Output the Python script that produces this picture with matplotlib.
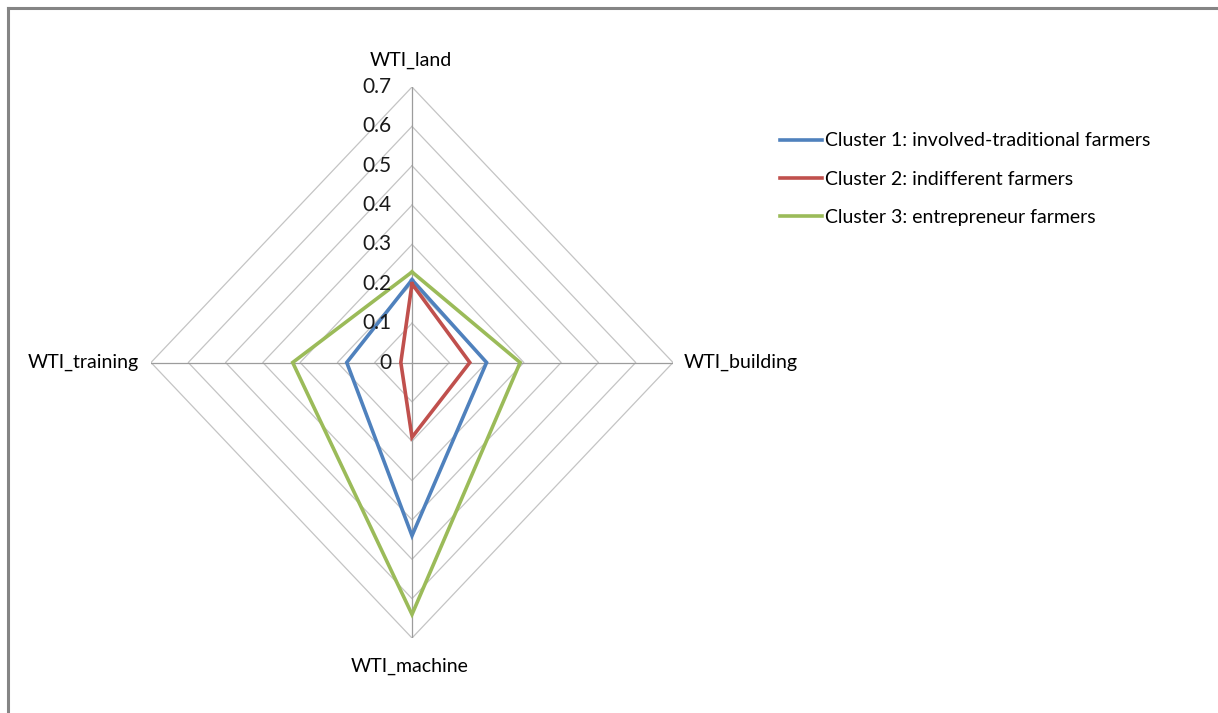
import numpy as np
import matplotlib.pyplot as plt
from matplotlib.lines import Line2D
from matplotlib.transforms import offset_copy

plt.rcParams['font.family'] = ['Lato', 'DejaVu Sans']

# Axes of the radar (clockwise from top)
ejes = ['WTI_land', 'WTI_building', 'WTI_machine', 'WTI_training']
# Weighted values per cluster
cluster1 = [0.21, 0.20, 0.44, 0.175]
cluster2 = [0.20, 0.155, 0.19, 0.03]
cluster3 = [0.23, 0.29, 0.64, 0.32]
nombres = ['Cluster 1: involved-traditional farmers',
           'Cluster 2: indifferent farmers',
           'Cluster 3: entrepreneur farmers']
colores = ['#4F81BD', '#C0504D', '#9BBB59']
niveles = [0, 0.1, 0.2, 0.3, 0.4, 0.5, 0.6, 0.7]

W, H = 1218, 713
fig = plt.figure(figsize=(W / 100, H / 100), dpi=100)

# Area del radar (centro en ~412, 363)
izq, der, arr, aba = 151, 673, 87, 638
ax = fig.add_axes([izq / W, 1 - aba / H, (der - izq) / W, (aba - arr) / H])
ax.set_xlim(-0.7, 0.7)
ax.set_ylim(-0.7, 0.7)
ax.axis('off')

# direcciones: arriba, derecha, abajo, izquierda
dx = np.array([0, 1, 0, -1])
dy = np.array([1, 0, -1, 0])

# anillos de la rejilla
for r in niveles[1:]:
    xs = np.append(dx * r, dx[0] * r)
    ys = np.append(dy * r, dy[0] * r)
    ax.plot(xs, ys, color='#C4C4C4', lw=0.9, zorder=1)

# radios
for i in range(4):
    ax.plot([0, dx[i] * 0.7], [0, dy[i] * 0.7], color='#9C9C9C', lw=0.9, zorder=2)

# series
series = [cluster1, cluster2, cluster3]
for vals, nombre, col in zip(series, nombres, colores):
    v = np.array(vals)
    xs = np.append(dx * v, dx[0] * v[0])
    ys = np.append(dy * v, dy[0] * v[0])
    ax.plot(xs, ys, color=col, lw=2.6, label=nombre, zorder=3,
            solid_joinstyle='miter')

# etiquetas de escala
tr = offset_copy(ax.transData, fig=fig, x=-20, y=0, units='dots')
for r in niveles:
    ax.text(0, r, f'{r:g}', transform=tr, ha='right', va='center',
            fontsize=15, color='#1a1a1a', zorder=4)

# nombres de los ejes
fs = 14
ax.text(0, 0.7, ejes[0], transform=offset_copy(ax.transData, fig=fig, x=-1, y=27, units='dots'),
        ha='center', va='center', fontsize=fs)
ax.text(0.7, 0, ejes[1], transform=offset_copy(ax.transData, fig=fig, x=11, y=0, units='dots'),
        ha='left', va='center', fontsize=fs)
ax.text(0, -0.7, ejes[2], transform=offset_copy(ax.transData, fig=fig, x=-2, y=-28, units='dots'),
        ha='center', va='center', fontsize=fs)
ax.text(-0.7, 0, ejes[3], transform=offset_copy(ax.transData, fig=fig, x=-12, y=0, units='dots'),
        ha='right', va='center', fontsize=fs)

# leyenda
fig.legend(loc='upper left', bbox_to_anchor=(762 / W, 1 - 115 / H), frameon=False,
           fontsize=fs, handlelength=2.2, handletextpad=0.15, labelspacing=1.1)

# borde del grafico
fig.add_artist(Line2D([8 / W, 8 / W], [0, 1 - 8 / H], color='#858585', lw=2.2))
fig.add_artist(Line2D([8 / W, 1], [1 - 8 / H, 1 - 8 / H], color='#858585', lw=2.2))

fig.savefig('out.png', dpi=100)
